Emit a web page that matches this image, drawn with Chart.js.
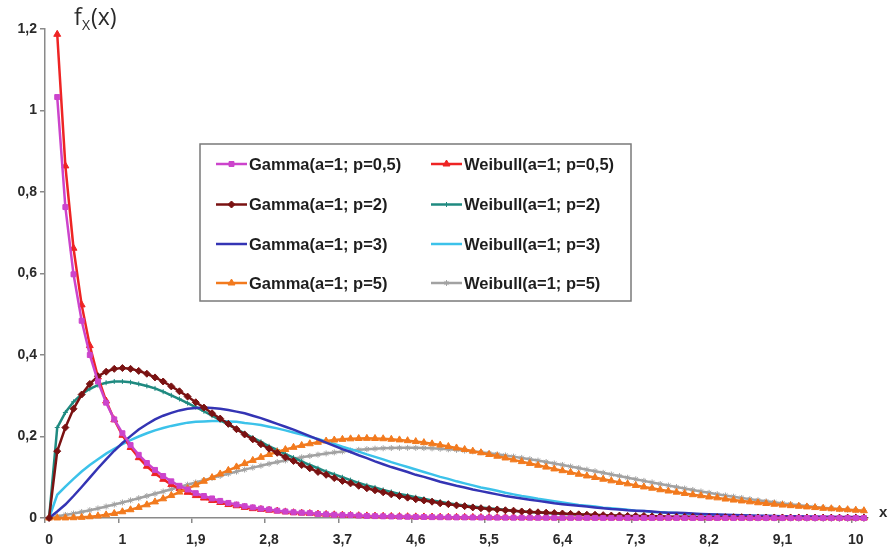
<!DOCTYPE html>
<html>
<head>
<meta charset="utf-8">
<title>Gamma vs Weibull</title>
<script src="https://cdn.jsdelivr.net/npm/chart.js"></script>
<style>
  html, body { margin: 0; padding: 0; background: #fff; }
  #wrap { width: 890px; height: 555px; position: relative; }
</style>
</head>
<body>
<div id="wrap"><canvas id="densChart"></canvas></div>
<script>
// x grid (category axis) - first point is x = 0, then 0.2 ... 10.1
const xValues = [
  0, 0.2, 0.3, 0.4, 0.5, 0.6, 0.7, 0.8, 0.9, 1,
  1.1, 1.2, 1.3, 1.4, 1.5, 1.6, 1.7, 1.8, 1.9, 2,
  2.1, 2.2, 2.3, 2.4, 2.5, 2.6, 2.7, 2.8, 2.9, 3,
  3.1, 3.2, 3.3, 3.4, 3.5, 3.6, 3.7, 3.8, 3.9, 4,
  4.1, 4.2, 4.3, 4.4, 4.5, 4.6, 4.7, 4.8, 4.9, 5,
  5.1, 5.2, 5.3, 5.4, 5.5, 5.6, 5.7, 5.8, 5.9, 6,
  6.1, 6.2, 6.3, 6.4, 6.5, 6.6, 6.7, 6.8, 6.9, 7,
  7.1, 7.2, 7.3, 7.4, 7.5, 7.6, 7.7, 7.8, 7.9, 8,
  8.1, 8.2, 8.3, 8.4, 8.5, 8.6, 8.7, 8.8, 8.9, 9,
  9.1, 9.2, 9.3, 9.4, 9.5, 9.6, 9.7, 9.8, 9.9, 10,
  10.1
];

const gamma05 = [
  null, 1.033, 0.763, 0.598, 0.484, 0.400, 0.335, 0.283, 0.242, 0.208,
  0.179, 0.155, 0.135, 0.118, 0.103, 0.090, 0.079, 0.070, 0.061, 0.054,
  0.048, 0.042, 0.037, 0.033, 0.029, 0.026, 0.023, 0.021, 0.018, 0.016,
  0.014, 0.013, 0.012, 0.010, 0.009, 0.008, 0.007, 0.007, 0.006, 0.005,
  0.0046, 0.0041, 0.0037, 0.0033, 0.0030, 0.0026, 0.0024, 0.0021, 0.0019, 0.0017,
  0.0015, 0.0014, 0.0012, 0.0011, 0.0010, 0.0009, 0.0008, 0.0007, 0.0006, 0.0006,
  0.0005, 0.0005, 0.0004, 0.0004, 0.0003, 0.0003, 0.0003, 0.0002, 0.0002, 0.0002,
  0.0002, 0.0002, 0.0001, 0.0001, 0.0001, 0.0001, 0.0001, 0.0001, 0.0001, 0.0001,
  0.0001, 0.0001, 0.0001, 0.0001, 0, 0, 0, 0, 0, 0,
  0, 0, 0, 0, 0, 0, 0, 0, 0, 0,
  0
];

const weibull05 = [
  null, 1.187, 0.864, 0.662, 0.523, 0.423, 0.346, 0.287, 0.241, 0.203,
  0.173, 0.148, 0.127, 0.109, 0.095, 0.082, 0.072, 0.063, 0.055, 0.049,
  0.043, 0.038, 0.033, 0.030, 0.026, 0.023, 0.021, 0.019, 0.017, 0.015,
  0.013, 0.012, 0.011, 0.0096, 0.0087, 0.0078, 0.0070, 0.0063, 0.0057, 0.0052,
  0.0047, 0.0043, 0.0039, 0.0035, 0.0032, 0.0029, 0.0026, 0.0024, 0.0022, 0.0020,
  0.0018, 0.0016, 0.0015, 0.0014, 0.0012, 0.0011, 0.0010, 0.0009, 0.0009, 0.0008,
  0.0007, 0.0007, 0.0006, 0.0006, 0.0005, 0.0005, 0.0004, 0.0004, 0.0004, 0.0003,
  0.0003, 0.0003, 0.0003, 0.0002, 0.0002, 0.0002, 0.0002, 0.0002, 0.0002, 0.0002,
  0.0001, 0.0001, 0.0001, 0.0001, 0.0001, 0.0001, 0.0001, 0.0001, 0.0001, 0.0001,
  0.0001, 0.0001, 0.0001, 0.0001, 0, 0, 0, 0, 0, 0,
  0
];

const gamma2 = [
  0, 0.164, 0.222, 0.268, 0.303, 0.329, 0.348, 0.359, 0.366, 0.368,
  0.366, 0.361, 0.354, 0.345, 0.335, 0.323, 0.311, 0.298, 0.284, 0.271,
  0.257, 0.244, 0.231, 0.218, 0.205, 0.193, 0.181, 0.170, 0.160, 0.149,
  0.140, 0.130, 0.122, 0.113, 0.106, 0.098, 0.091, 0.085, 0.079, 0.073,
  0.068, 0.063, 0.058, 0.054, 0.050, 0.046, 0.043, 0.040, 0.036, 0.034,
  0.031, 0.029, 0.026, 0.024, 0.022, 0.021, 0.019, 0.018, 0.016, 0.015,
  0.014, 0.013, 0.012, 0.011, 0.010, 0.009, 0.008, 0.008, 0.007, 0.006,
  0.006, 0.005, 0.005, 0.005, 0.004, 0.004, 0.003, 0.003, 0.003, 0.003,
  0.002, 0.002, 0.002, 0.002, 0.002, 0.002, 0.001, 0.001, 0.001, 0.001,
  0.001, 0.0009, 0.0008, 0.0008, 0.0007, 0.0006, 0.0006, 0.0005, 0.0005, 0.0005,
  0.0004
];

const weibull2 = [
  0, 0.222, 0.259, 0.285, 0.304, 0.317, 0.326, 0.332, 0.335, 0.335,
  0.333, 0.329, 0.324, 0.318, 0.310, 0.301, 0.292, 0.282, 0.272, 0.262,
  0.251, 0.240, 0.229, 0.218, 0.208, 0.197, 0.187, 0.176, 0.167, 0.157,
  0.148, 0.139, 0.130, 0.122, 0.114, 0.107, 0.100, 0.093, 0.086, 0.080,
  0.075, 0.069, 0.064, 0.059, 0.055, 0.051, 0.047, 0.043, 0.040, 0.036,
  0.033, 0.031, 0.028, 0.026, 0.024, 0.022, 0.020, 0.018, 0.016, 0.015,
  0.0135, 0.0123, 0.0111, 0.0101, 0.0092, 0.0083, 0.0075, 0.0068, 0.0062, 0.0056,
  0.0051, 0.0046, 0.0042, 0.0038, 0.0034, 0.0031, 0.0027, 0.0025, 0.0022, 0.0020,
  0.0018, 0.0016, 0.0014, 0.0013, 0.0011, 0.0010, 0.0009, 0.0008, 0.0007, 0.0006,
  0.0006, 0.0005, 0.0005, 0.0004, 0.0004, 0.0003, 0.0003, 0.0003, 0.0002, 0.0002,
  0.0002
];

const gamma3 = [
  0, 0.016, 0.033, 0.054, 0.076, 0.099, 0.122, 0.144, 0.165, 0.184,
  0.201, 0.217, 0.230, 0.242, 0.251, 0.258, 0.264, 0.268, 0.270, 0.271,
  0.270, 0.268, 0.265, 0.261, 0.257, 0.251, 0.245, 0.238, 0.231, 0.224,
  0.217, 0.209, 0.201, 0.193, 0.185, 0.177, 0.169, 0.162, 0.154, 0.147,
  0.139, 0.132, 0.125, 0.119, 0.113, 0.106, 0.101, 0.095, 0.089, 0.084,
  0.079, 0.075, 0.070, 0.066, 0.062, 0.058, 0.054, 0.051, 0.048, 0.045,
  0.042, 0.039, 0.036, 0.034, 0.032, 0.030, 0.028, 0.026, 0.024, 0.022,
  0.021, 0.019, 0.018, 0.017, 0.016, 0.014, 0.013, 0.013, 0.012, 0.011,
  0.010, 0.0092, 0.0086, 0.0079, 0.0073, 0.0068, 0.0063, 0.0058, 0.0054, 0.0050,
  0.0046, 0.0043, 0.0040, 0.0037, 0.0034, 0.0031, 0.0029, 0.0027, 0.0025, 0.0023,
  0.0021
];

const weibull3 = [
  0, 0.057, 0.077, 0.096, 0.114, 0.130, 0.144, 0.158, 0.170, 0.181,
  0.191, 0.200, 0.208, 0.215, 0.221, 0.226, 0.230, 0.234, 0.236, 0.237,
  0.238, 0.238, 0.237, 0.236, 0.233, 0.231, 0.228, 0.224, 0.220, 0.215,
  0.210, 0.205, 0.199, 0.194, 0.188, 0.182, 0.175, 0.169, 0.163, 0.156,
  0.150, 0.144, 0.137, 0.131, 0.125, 0.119, 0.113, 0.107, 0.101, 0.096,
  0.090, 0.085, 0.080, 0.075, 0.071, 0.067, 0.062, 0.058, 0.054, 0.051,
  0.047, 0.044, 0.041, 0.038, 0.035, 0.032, 0.030, 0.028, 0.025, 0.024,
  0.022, 0.020, 0.018, 0.017, 0.015, 0.014, 0.013, 0.012, 0.011, 0.0096,
  0.0087, 0.0079, 0.0072, 0.0065, 0.0059, 0.0053, 0.0048, 0.0043, 0.0039, 0.0035,
  0.0031, 0.0028, 0.0025, 0.0022, 0.0020, 0.0018, 0.0016, 0.0014, 0.0012, 0.0011,
  0.0010
];

const gamma5 = [
  0, 0.0001, 0.0002, 0.0007, 0.0016, 0.0030, 0.0050, 0.0077, 0.0111, 0.0153,
  0.0203, 0.0260, 0.0324, 0.0395, 0.0471, 0.0551, 0.0636, 0.0723, 0.0812, 0.0902,
  0.0992, 0.1081, 0.1169, 0.1254, 0.1336, 0.1414, 0.1488, 0.1558, 0.1622, 0.1680,
  0.1734, 0.1781, 0.1822, 0.1858, 0.1889, 0.1913, 0.1930, 0.1943, 0.1951, 0.1954,
  0.1951, 0.1945, 0.1932, 0.1917, 0.1898, 0.1876, 0.1850, 0.1820, 0.1789, 0.1755,
  0.1719, 0.1681, 0.1641, 0.1601, 0.1558, 0.1516, 0.1473, 0.1427, 0.1384, 0.1339,
  0.1293, 0.1249, 0.1204, 0.1161, 0.1120, 0.1074, 0.1032, 0.0994, 0.0952, 0.0912,
  0.0874, 0.0838, 0.0799, 0.0762, 0.0731, 0.0693, 0.0662, 0.0634, 0.0603, 0.0572,
  0.0547, 0.0516, 0.0494, 0.0465, 0.0440, 0.0419, 0.0397, 0.0374, 0.0356, 0.0338,
  0.0317, 0.0303, 0.0288, 0.0272, 0.0256, 0.0238, 0.0227, 0.0216, 0.0204, 0.0192,
  0.0179
];

const weibull5 = [
  0, 0.0042, 0.0074, 0.0109, 0.0148, 0.0191, 0.0235, 0.0282, 0.0331, 0.0381,
  0.0433, 0.0486, 0.0540, 0.0595, 0.0650, 0.0705, 0.0761, 0.0817, 0.0872, 0.0927,
  0.0981, 0.1034, 0.1087, 0.1138, 0.1188, 0.1237, 0.1284, 0.1329, 0.1372, 0.1413,
  0.1452, 0.1489, 0.1523, 0.1554, 0.1584, 0.1610, 0.1634, 0.1655, 0.1673, 0.1689,
  0.1701, 0.1711, 0.1717, 0.1721, 0.1722, 0.1721, 0.1716, 0.1709, 0.1699, 0.1686,
  0.1672, 0.1654, 0.1635, 0.1613, 0.1589, 0.1563, 0.1535, 0.1506, 0.1475, 0.1443,
  0.1409, 0.1374, 0.1338, 0.1301, 0.1263, 0.1225, 0.1186, 0.1147, 0.1108, 0.1068,
  0.1029, 0.0989, 0.0950, 0.0911, 0.0872, 0.0834, 0.0797, 0.0759, 0.0723, 0.0688,
  0.0651, 0.0617, 0.0584, 0.0553, 0.0523, 0.0492, 0.0463, 0.0435, 0.0409, 0.0385,
  0.0359, 0.0335, 0.0313, 0.0292, 0.0273, 0.0253, 0.0235, 0.0218, 0.0202, 0.0187,
  0.0173
];

const seriesNames = [
  'Gamma(a=1; p=0,5)', 'Weibull(a=1; p=0,5)',
  'Gamma(a=1; p=2)',   'Weibull(a=1; p=2)',
  'Gamma(a=1; p=3)',   'Weibull(a=1; p=3)',
  'Gamma(a=1; p=5)',   'Weibull(a=1; p=5)'
];
const seriesData = [gamma05, weibull05, gamma2, weibull2, gamma3, weibull3, gamma5, weibull5];

// line colour, marker shape and marker size per series
const seriesColors = ['#cc44cc', '#ee2424', '#7a1212', '#1f8a80', '#3434b4', '#3cc2ea', '#f27a1e', '#a2a2a2'];
const seriesMarkers = ['rect', 'triangle', 'rectRot', 'cross', false, false, 'triangle', 'star'];
const seriesRadius = [3.5, 4, 3.5, 2.5, 0, 0, 4, 3];

const LABEL_STEP = 9;
const fmtNum = v => String(v).replace('.', ',');
const tickFont = { family: 'Liberation Sans, Arial, sans-serif', size: 14, weight: 'bold' };

const datasets = seriesData.map((data, i) => ({
  label: seriesNames[i],
  data: data,
  borderColor: seriesColors[i],
  backgroundColor: seriesColors[i],
  borderWidth: 2.5,
  pointStyle: seriesMarkers[i] || 'circle',
  pointRadius: seriesRadius[i],
  pointBorderWidth: 1,
  pointBorderColor: seriesColors[i],
  pointBackgroundColor: seriesColors[i],
  tension: 0,
  spanGaps: false,
  clip: 12,
  // gamma curves sit above the weibull ones
  order: i % 2 === 0 ? 0 : 1
}));

// boxed two-column legend plus the axis captions
const overlay = {
  id: 'overlay',
  afterDraw(chart) {
    const ctx = chart.ctx;
    ctx.save();

    // legend frame
    const box = { x: 200, y: 144, w: 431, h: 157 };
    ctx.fillStyle = '#fff';
    ctx.fillRect(box.x, box.y, box.w, box.h);
    ctx.strokeStyle = '#7a7a7a';
    ctx.lineWidth = 1.5;
    ctx.strokeRect(box.x, box.y, box.w, box.h);

    const colX = [216, 431];
    const rowY = [164, 204.5, 244, 283];
    ctx.font = 'bold 16.5px "Liberation Sans", Arial, sans-serif';
    ctx.textBaseline = 'middle';
    chart.data.datasets.forEach((ds, i) => {
      const x = colX[i % 2];
      const y = rowY[Math.floor(i / 2)];
      ctx.strokeStyle = ds.borderColor;
      ctx.lineWidth = 2.5;
      ctx.beginPath();
      ctx.moveTo(x, y);
      ctx.lineTo(x + 31, y);
      ctx.stroke();
      if (ds.pointRadius > 0) {
        ctx.fillStyle = ds.borderColor;
        ctx.strokeStyle = ds.borderColor;
        ctx.lineWidth = 1;
        Chart.helpers.drawPoint(ctx, { pointStyle: ds.pointStyle, radius: ds.pointRadius, rotation: 0, borderWidth: 1 }, x + 15.5, y);
      }
      ctx.fillStyle = '#1e1e1e';
      ctx.fillText(ds.label, x + 33, y + 1);
    });

    // y caption f_X(x)
    ctx.fillStyle = '#2a2a2a';
    ctx.textBaseline = 'alphabetic';
    ctx.font = '23px "Open Sans", "DejaVu Sans", sans-serif';
    ctx.fillText('f', 74, 25);
    ctx.font = '14px "Open Sans", "DejaVu Sans", sans-serif';
    ctx.fillText('X', 82, 30);
    ctx.font = '23px "Open Sans", "DejaVu Sans", sans-serif';
    ctx.fillText('(x)', 91, 25);

    // x caption
    ctx.font = 'bold 15px "Liberation Sans", Arial, sans-serif';
    ctx.fillText('x', 879, 517);
    ctx.restore();
  }
};

new Chart(document.getElementById('densChart'), {
  type: 'line',
  data: { labels: xValues.map(fmtNum), datasets: datasets },
  options: {
    responsive: true,
    maintainAspectRatio: false,
    animation: false,
    layout: { padding: { top: 29, right: 22, left: 0, bottom: 0 } },
    plugins: { legend: { display: false }, tooltip: { enabled: false } },
    scales: {
      x: {
        type: 'category',
        // points sit in the middle of each category slot, tick marks on the slot edges
        offset: true,
        afterFit: s => { s.height = 37; },
        border: { display: true, color: '#8a8a8a', width: 1.5 },
        grid: {
          offset: true,
          drawOnChartArea: false,
          drawTicks: true,
          tickLength: 5,
          lineWidth: 1.5,
          color: c => (c.index % LABEL_STEP === 0 && c.index < xValues.length ? '#8a8a8a' : 'rgba(0,0,0,0)')
        },
        ticks: {
          autoSkip: false,
          maxRotation: 0,
          minRotation: 0,
          padding: 9,
          color: '#2a2a2a',
          font: tickFont,
          callback: (v, idx) => (idx % LABEL_STEP === 0 && idx < 100 ? fmtNum(xValues[idx]) : '')
        }
      },
      y: {
        min: 0,
        max: 1.2,
        afterFit: s => { s.width = 45; },
        border: { display: true, color: '#8a8a8a', width: 1.5 },
        grid: { drawOnChartArea: false, drawTicks: true, tickLength: 5, lineWidth: 1.5, color: '#8a8a8a' },
        ticks: {
          stepSize: 0.2,
          padding: 3,
          color: '#2a2a2a',
          font: tickFont,
          callback: v => fmtNum(Number(v.toFixed(1)))
        }
      }
    }
  },
  plugins: [overlay]
});
</script>
</body>
</html>
